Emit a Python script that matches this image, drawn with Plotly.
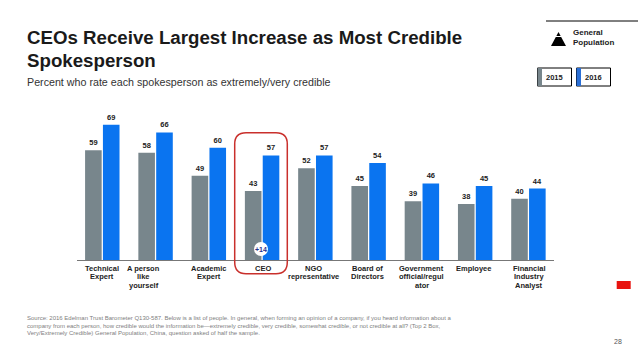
import plotly.graph_objects as go

W, H = 638, 359
categories = ["Technical Expert", "A person like yourself", "Academic Expert", "CEO", "NGO representative",
              "Board of Directors", "Government official/regulator", "Employee", "Financial Industry Analyst"]
label_lines = [["Technical", "Expert"], ["A person", "like", "yourself"], ["Academic", "Expert"], ["CEO"],
               ["NGO", "representative"], ["Board of", "Directors"], ["Government", "official/regul", "ator"],
               ["Employee"], ["Financial", "Industry", "Analyst"]]
label_shift = [0, -12, 0, 1, -2, -1, 0, -2, 1]
values_2015 = [59, 58, 49, 43, 52, 45, 39, 38, 40]
values_2016 = [69, 66, 60, 57, 57, 54, 46, 45, 44]
title_lines = ["CEOs Receive Largest Increase as Most Credible", "Spokesperson"]
subtitle = "Percent who rate each spokesperson as extremely/very credible"
footnote = ["Source: 2016 Edelman Trust Barometer Q130-587. Below is a list of people. In general, when forming an opinion of a company, if you heard information about a",
            "company from each person, how credible would the information be\u2014extremely credible, very credible, somewhat credible, or not credible at all? (Top 2 Box,",
            "Very/Extremely Credible) General Population, China, question asked of half the sample."]

GRAY, BLUE, INK = "#78868c", "#0a74f0", "#222222"
FONT = "Liberation Sans"
px = lambda x: x / W
py = lambda y: 1 - y / H

fig = go.Figure()
idx = list(range(len(categories)))
for name, vals, col in [("2015", values_2015, GRAY), ("2016", values_2016, BLUE)]:
    fig.add_bar(x=idx, y=vals, name=name, marker=dict(color=col, line_width=0), text=["<b>%d</b>" % v for v in vals],
                textposition="outside", cliponaxis=False, constraintext="none",
                textfont=dict(family=FONT, size=7.5, color=INK), hovertext=categories)

shapes = [
    dict(type="path", xref="paper", yref="paper", line=dict(color="#c9302c", width=1.5),
         path="M %f,%f L %f,%f Q %f,%f %f,%f L %f,%f Q %f,%f %f,%f L %f,%f Q %f,%f %f,%f L %f,%f Q %f,%f %f,%f Z" % (
             px(246), py(132.7), px(276), py(132.7), px(287.3), py(132.7), px(287.3), py(144),
             px(287.3), py(262), px(287.3), py(273.7), px(276), py(273.7),
             px(246), py(273.7), px(234.7), py(273.7), px(234.7), py(262),
             px(234.7), py(144), px(234.7), py(132.7), px(246), py(132.7))),
    dict(type="circle", xref="paper", yref="paper", x0=px(254), x1=px(268), y0=py(242), y1=py(256),
         fillcolor="white", line_width=0),
    dict(type="line", xref="paper", yref="paper", x0=px(546), x1=1, y0=py(21), y1=py(21),
         line=dict(color="black", width=1)),
    dict(type="path", xref="paper", yref="paper", fillcolor="black", line_width=0,
         path="M %f,%f L %f,%f L %f,%f Z" % (px(558.5), py(32), px(551), py(46), px(566), py(46))),
    dict(type="line", xref="paper", yref="paper", x0=px(553), x1=px(564), y0=py(36.5), y1=py(36.5),
         line=dict(color="white", width=1)),
    dict(type="rect", xref="paper", yref="paper", x0=px(537.5), x1=px(571.5), y0=py(68), y1=py(86),
         line=dict(color="black", width=1), fillcolor="white"),
    dict(type="rect", xref="paper", yref="paper", x0=px(537.5), x1=px(542), y0=py(68), y1=py(86),
         line_width=0, fillcolor=GRAY),
    dict(type="rect", xref="paper", yref="paper", x0=px(576.5), x1=px(610.5), y0=py(68), y1=py(86),
         line=dict(color="black", width=1), fillcolor="white"),
    dict(type="rect", xref="paper", yref="paper", x0=px(576.5), x1=px(581), y0=py(68), y1=py(86),
         line_width=0, fillcolor="#2a6fd6"),
    dict(type="rect", xref="paper", yref="paper", x0=px(616.7), x1=px(630.7), y0=py(281), y1=py(289),
         line_width=0, fillcolor="#e8130f"),
]

def note(x, y, text, size, color=INK, bold=False, anchor="left", valign="middle"):
    return dict(x=px(x), y=py(y), xref="paper", yref="paper", text=("<b>%s</b>" % text) if bold else text,
                showarrow=False, xanchor=anchor, yanchor=valign, align=anchor,
                font=dict(family=FONT, size=size, color=color), borderpad=0, borderwidth=0)

ann = [
    note(27, 38, title_lines[0], 18.7, "#1a1a1a", True),
    note(27, 61, title_lines[1], 18.7, "#1a1a1a", True),
    note(27, 82, subtitle, 10.7, "#333333"),
    note(261, 249, "+14", 7, "#1f2f8f", True, "center"),
    note(573, 33, "General", 8, "#222222", True),
    note(573, 43, "Population", 8, "#222222", True),
    note(554.5, 77, "2015", 7.5, "#222222", True, "center"),
    note(593.5, 77, "2016", 7.5, "#222222", True, "center"),
    note(618, 341, "28", 7, "#555555", False, "center"),
]
for i, line in enumerate(footnote):
    ann.append(note(27, 318 + i * 7.5, line, 6.0, "#808080"))
for i, lines in enumerate(label_lines):
    for j, line in enumerate(lines):
        ann.append(dict(x=i, xref="x", xshift=label_shift[i], y=py(268 + j * 8.6), yref="paper", text="<b>%s</b>" % line,
                        showarrow=False, xanchor="center", yanchor="middle",
                        font=dict(family=FONT, size=7.5, color=INK)))

fig.update_layout(
    width=W, height=H, margin=dict(l=0, r=0, t=0, b=0), autosize=False,
    paper_bgcolor="white", plot_bgcolor="white", showlegend=False,
    barmode="group", bargap=0.33, bargroupgap=0.07,
    shapes=shapes, annotations=ann,
    xaxis=dict(domain=[px(77), px(554)], range=[-0.475, 8.48], showticklabels=False, ticks="",
               showgrid=False, zeroline=False, showline=True, linecolor="#777777", linewidth=1),
    yaxis=dict(domain=[py(260), py(110)], range=[16, 74.8], visible=False, showgrid=False, zeroline=False),
)
fig.write_html("out.html", config=dict(displayModeBar=False),
               post_script="document.body.style.margin='0';document.body.style.overflow='hidden';")
